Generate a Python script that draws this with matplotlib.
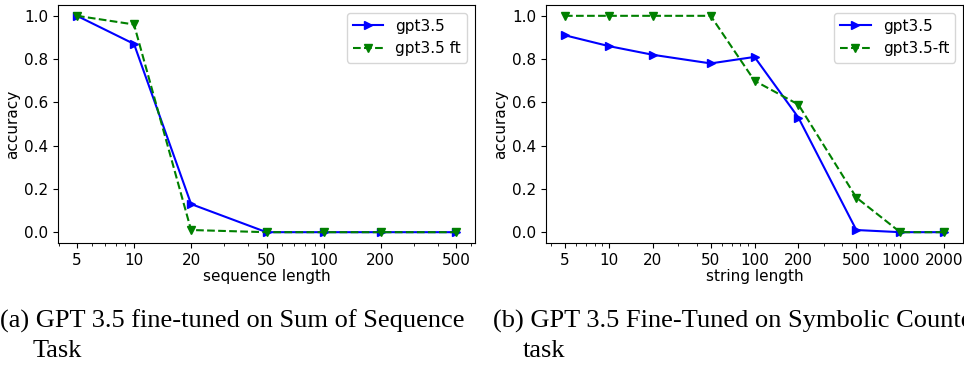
import matplotlib
matplotlib.use("Agg")
import matplotlib.pyplot as plt

# Data
seq_lengths = [5, 10, 20, 50, 100, 200, 500]
seq_gpt35 = [1.0, 0.87, 0.13, 0.0, 0.0, 0.0, 0.0]
seq_gpt35_ft = [1.0, 0.96, 0.01, 0.0, 0.0, 0.0, 0.0]

str_lengths = [5, 10, 20, 50, 100, 200, 500, 1000, 2000]
str_gpt35 = [0.91, 0.86, 0.82, 0.78, 0.81, 0.53, 0.01, 0.0, 0.0]
str_gpt35_ft = [1.0, 1.0, 1.0, 1.0, 0.70, 0.59, 0.16, 0.0, 0.0]

caption_a = ["(a) GPT 3.5 fine-tuned on Sum of Sequence", "Task"]
caption_b = ["(b) GPT 3.5 Fine-Tuned on Symbolic Counter", "task"]

W, H = 964, 370
fig = plt.figure(figsize=(W / 100, H / 100), dpi=100)

def box(x0, x1, ytop, ybot):
    return [x0 / W, 1 - ybot / H, (x1 - x0) / W, (ybot - ytop) / H]

ax1 = fig.add_axes(box(58, 475, 5, 243))
ax2 = fig.add_axes(box(546, 963, 5, 243))

FS = 11

def draw(ax, x, y1, y2, lab1, lab2, xlabel):
    ax.plot(x, y1, color="blue", marker=">", linestyle="-", label=lab1, markersize=6)
    ax.plot(x, y2, color="green", marker="v", linestyle="--", label=lab2, markersize=6)
    ax.set_xscale("log")
    ax.set_xticks(x)
    ax.set_xticklabels([str(v) for v in x])
    ax.set_xlabel(xlabel, fontsize=FS, labelpad=1)
    ax.set_ylabel("accuracy", fontsize=FS, labelpad=3)
    ax.tick_params(labelsize=FS)
    ax.legend(loc="upper right", fontsize=FS)

draw(ax1, seq_lengths, seq_gpt35, seq_gpt35_ft, "gpt3.5", "gpt3.5 ft", "sequence length")
draw(ax2, str_lengths, str_gpt35, str_gpt35_ft, "gpt3.5", "gpt3.5-ft", "string length")

cap_font = dict(family="Liberation Serif", fontsize=19, va="baseline")
fig.text(0 / W, 1 - 328 / H, caption_a[0], **cap_font)
fig.text(33 / W, 1 - 357 / H, caption_a[1], **cap_font)
fig.text(493 / W, 1 - 328 / H, caption_b[0], **cap_font)
fig.text(523 / W, 1 - 357 / H, caption_b[1], **cap_font)

fig.savefig("out.png", dpi=100)
